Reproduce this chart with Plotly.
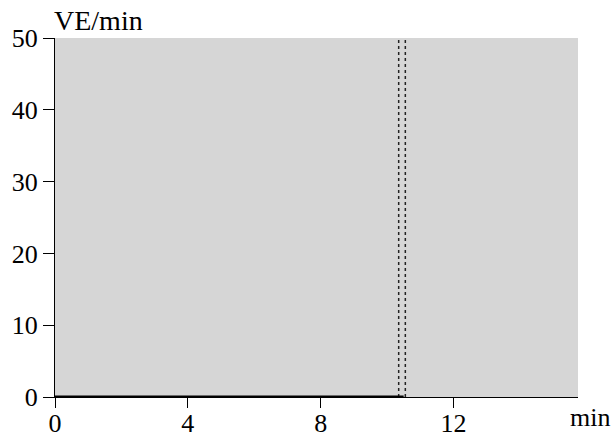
import plotly.graph_objects as go

time_min = [0, 10.5]
ve_values = [0, 0]
marker_lines = [10.35, 10.55]
x_ticks = [0, 4, 8, 12]
y_ticks = [0, 10, 20, 30, 40, 50]
x_range = [0, 15.75]
y_range = [0, 50]

fig = go.Figure()
# stippled background area
fig.add_trace(go.Scatter(x=[x_range[0], x_range[1], x_range[1], x_range[0], x_range[0]],
                         y=[y_range[0], y_range[0], y_range[1], y_range[1], y_range[0]],
                         fill="toself", fillcolor="#d6d6d6", line=dict(width=0),
                         mode="lines", hoverinfo="skip", showlegend=False))
for xv in marker_lines:
    fig.add_trace(go.Scatter(x=[xv, xv], y=y_range, mode="lines",
                             line=dict(color="#222222", width=1.5, dash="dot"),
                             showlegend=False))
fig.add_trace(go.Scatter(x=time_min, y=ve_values, mode="lines",
                         line=dict(color="black", width=3), showlegend=False,
                         cliponaxis=False))

font = dict(family="Liberation Serif", size=26, color="black")
title_font = dict(family="Liberation Serif", size=28, color="black")
fig.update_layout(
    width=616, height=438, paper_bgcolor="white", plot_bgcolor="white",
    margin=dict(l=55, r=38, t=38, b=41),
    font=font,
    xaxis=dict(range=x_range, tickvals=x_ticks, ticks="outside", ticklen=10,
               tickcolor="black", showline=True, linecolor="black", linewidth=1,
               showgrid=False, zeroline=False, tickfont=font, automargin=False,
               ticklabelstandoff=-7),
    yaxis=dict(range=y_range, tickvals=y_ticks, ticks="outside", ticklen=11,
               tickcolor="black", showline=True, linecolor="black", linewidth=1,
               showgrid=False, zeroline=False, tickfont=font, automargin=False),
    annotations=[
        dict(text="VE/min", x=0, y=1, xref="paper", yref="paper", xanchor="left",
             yanchor="bottom", showarrow=False, font=title_font, xshift=-3, yshift=0),
        dict(text="min", x=1, y=0, xref="paper", yref="paper", xanchor="left",
             yanchor="top", showarrow=False, font=font, xshift=-10, yshift=-4),
    ],
)
fig.write_html("out.html")
